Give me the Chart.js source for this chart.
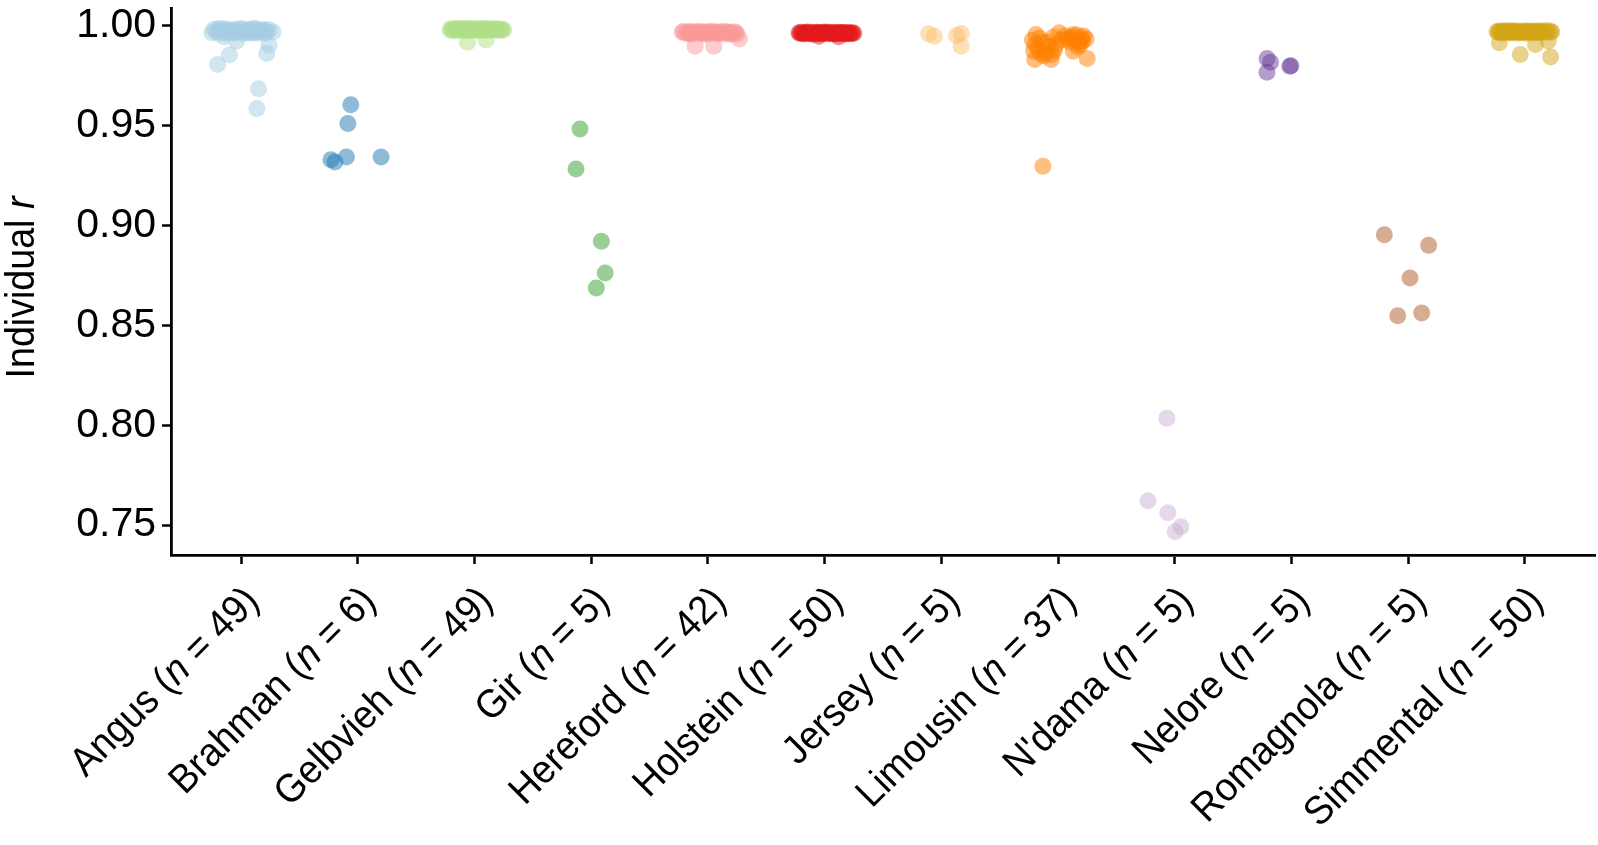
<!DOCTYPE html>
<html>
<head>
<meta charset="utf-8">
<title>Individual r per breed</title>
<script src="https://cdn.jsdelivr.net/npm/chart.js@4.4.1/dist/chart.umd.min.js"></script>
<style>
  html, body { margin: 0; padding: 0; background: #fff; }
  #wrap { width: 1598px; height: 845px; }
</style>
</head>
<body>
<div id="wrap"><canvas id="stripChart" width="1598" height="845"></canvas></div>
<script>
// --- Daten: Kategorien, Stichprobengrössen, Tick-Werte ---
const breeds = ["Angus", "Brahman", "Gelbvieh", "Gir", "Hereford", "Holstein",
                "Jersey", "Limousin", "N'dama", "Nelore", "Romagnola", "Simmental"];
const breedN = [49, 6, 49, 5, 42, 50, 5, 37, 5, 5, 5, 50];
const yTicks = [0.75, 0.80, 0.85, 0.90, 0.95, 1.00];

// Werte pro Rasse (r) und horizontaler Jitter (in Kategorie-Einheiten)
const angusR = [0.9983,0.9976,0.9987,0.9972,0.9981,0.9969,0.9985,0.9974,0.9980,0.9967,
                0.9984,0.9978,0.9971,0.9988,0.9982,0.9968,0.9975,0.9984,0.9972,0.9980,
                0.9966,0.9986,0.9974,0.9979,0.9970,0.9983,0.9973,0.9978,0.9968,0.9981,
                0.9963,0.9962,0.9965,0.9961,0.9964,0.9963,0.9962,0.9986,0.9988,
                0.9946,0.9924,0.9854,0.9807,0.9904,0.9862,0.9685,0.9586,0.9970,0.9966];
const angusJitter = [-0.23,-0.21,-0.19,-0.17,-0.15,-0.14,-0.12,-0.10,-0.09,-0.07,
                     -0.05,-0.04,-0.02,0.00,0.01,0.03,0.04,0.06,0.07,0.09,
                     0.10,0.12,0.13,0.15,0.16,0.18,0.19,0.21,0.22,0.24,
                     -0.20,-0.13,-0.06,0.02,0.08,0.14,0.20,-0.16,0.11,
                     -0.147,-0.04,-0.10,-0.20,0.24,0.22,0.15,0.135,0.275,-0.25];

const brahmanR = [0.9605, 0.9511, 0.9344, 0.9344, 0.9330, 0.9319];
const brahmanJitter = [-0.06, -0.085, -0.097, 0.20, -0.23, -0.195];

const gelbviehR = [0.9984,0.9979,0.9987,0.9981,0.9976,0.9985,0.9980,0.9988,0.9978,0.9983,
                   0.9986,0.9977,0.9982,0.9989,0.9979,0.9984,0.9981,0.9975,0.9987,0.9980,
                   0.9983,0.9978,0.9986,0.9982,0.9976,0.9985,0.9980,0.9988,0.9979,0.9983,
                   0.9977,0.9986,0.9981,0.9984,0.9978,0.9987,0.9982,0.9980,0.9985,0.9979,
                   0.9983,0.9986,0.9981,0.9977,0.9984,0.9982,0.9980,
                   0.9918,0.9930];
const gelbviehJitter = [-0.21,-0.20,-0.19,-0.18,-0.17,-0.16,-0.15,-0.14,-0.13,-0.12,
                        -0.11,-0.10,-0.09,-0.08,-0.07,-0.06,-0.05,-0.04,-0.03,-0.02,
                        -0.01,0.00,0.01,0.02,0.03,0.04,0.05,0.06,0.07,0.08,
                        0.09,0.10,0.11,0.12,0.13,0.14,0.15,0.16,0.17,0.18,
                        0.19,0.20,0.21,0.22,0.23,0.24,0.25,
                        -0.06,0.10];

const girR = [0.9484, 0.9284, 0.8922, 0.8763, 0.8687];
const girJitter = [-0.096, -0.13, 0.087, 0.12, 0.044];

const herefordR = [0.9968,0.9972,0.9963,0.9970,0.9966,0.9974,0.9961,0.9969,0.9965,0.9971,
                   0.9964,0.9973,0.9967,0.9960,0.9970,0.9966,0.9972,0.9962,0.9968,0.9974,
                   0.9965,0.9969,0.9963,0.9971,0.9967,0.9960,0.9973,0.9966,0.9970,0.9964,
                   0.9968,0.9962,0.9971,0.9965,0.9960,0.9959,0.9958,0.9961,0.9957,
                   0.9899,0.9899,0.9935];
const herefordJitter = [-0.22,-0.21,-0.19,-0.18,-0.17,-0.15,-0.14,-0.12,-0.11,-0.10,
                        -0.08,-0.07,-0.05,-0.04,-0.03,-0.01,0.00,0.02,0.03,0.04,
                        0.06,0.07,0.09,0.10,0.11,0.13,0.14,0.16,0.17,0.18,
                        0.20,0.21,0.23,0.24,0.25,-0.16,-0.02,0.08,0.19,
                        -0.11,0.05,0.27];

const holsteinR = [0.9966,0.9962,0.9969,0.9964,0.9960,0.9967,0.9963,0.9970,0.9965,0.9961,
                   0.9968,0.9964,0.9959,0.9966,0.9962,0.9969,0.9963,0.9967,0.9960,0.9965,
                   0.9968,0.9962,0.9966,0.9970,0.9963,0.9967,0.9961,0.9965,0.9969,0.9964,
                   0.9960,0.9966,0.9962,0.9968,0.9965,0.9961,0.9967,0.9963,0.9969,0.9964,
                   0.9960,0.9966,0.9962,0.9967,0.9964,0.9961,0.9966,0.9963,0.9948,0.9946];
const holsteinJitter = [-0.22,-0.21,-0.20,-0.19,-0.18,-0.17,-0.16,-0.15,-0.14,-0.13,
                        -0.12,-0.11,-0.10,-0.09,-0.08,-0.07,-0.06,-0.05,-0.04,-0.03,
                        -0.02,-0.01,0.00,0.01,0.02,0.03,0.04,0.05,0.06,0.07,
                        0.08,0.09,0.10,0.11,0.12,0.13,0.14,0.15,0.16,0.17,
                        0.18,0.19,0.20,0.21,0.22,0.23,0.24,0.25,-0.05,0.12];

const jerseyR = [0.9961, 0.9949, 0.9952, 0.9962, 0.9899];
const jerseyJitter = [-0.11, -0.06, 0.13, 0.17, 0.17];

const limousinR = [0.9907,0.9957,0.9832,0.9832,0.9966,0.9957,0.9941,0.9874,0.9837,0.9899,
                   0.9917,0.9930,0.9885,0.9860,0.9875,0.9918,0.9940,0.9850,0.9920,0.9945,
                   0.9880,0.9865,0.9905,0.9930,0.9950,0.9935,0.9920,0.9945,0.9930,0.9895,
                   0.9905,0.9925,0.9950,0.9935,0.9955,0.9858,0.9297];
const limousinJitter = [-0.20,-0.19,-0.20,-0.06,0.01,0.13,0.20,0.13,0.25,-0.075,
                        0.18,-0.22,-0.17,-0.15,-0.21,-0.13,-0.16,-0.12,-0.09,-0.04,
                        -0.03,-0.10,-0.02,0.03,0.06,0.08,0.10,0.12,0.15,0.17,
                        0.19,0.21,0.22,0.24,0.16,-0.05,-0.13];

const ndamaR = [0.8035, 0.7622, 0.7562, 0.7492, 0.7467];
const ndamaJitter = [-0.068, -0.23, -0.06, 0.052, 0.003];

const neloreR = [0.9837, 0.9818, 0.9768, 0.9798, 0.9801];
const neloreJitter = [-0.21, -0.18, -0.21, -0.015, -0.005];

const romagnolaR = [0.8954, 0.8901, 0.8737, 0.8548, 0.8562];
const romagnolaJitter = [-0.205, 0.175, 0.015, -0.09, 0.115];

const simmentalR = [0.9972,0.9967,0.9975,0.9970,0.9964,0.9973,0.9968,0.9976,0.9971,0.9965,
                    0.9974,0.9969,0.9977,0.9966,0.9972,0.9970,0.9975,0.9963,0.9971,0.9968,
                    0.9974,0.9966,0.9972,0.9969,0.9976,0.9964,0.9970,0.9973,0.9967,0.9975,
                    0.9969,0.9972,0.9965,0.9974,0.9970,0.9967,0.9976,0.9971,0.9966,0.9973,
                    0.9969,0.9977,0.9968,0.9972,0.9970,
                    0.9916,0.9857,0.9844,0.9907,0.9925];
const simmentalJitter = [-0.24,-0.23,-0.22,-0.21,-0.20,-0.19,-0.18,-0.17,-0.16,-0.15,
                         -0.14,-0.13,-0.12,-0.11,-0.10,-0.09,-0.08,-0.07,-0.06,-0.05,
                         -0.04,-0.03,-0.02,-0.01,0.00,0.01,0.02,0.03,0.04,0.05,
                         0.06,0.07,0.08,0.09,0.10,0.11,0.12,0.13,0.14,0.15,
                         0.17,0.19,0.20,0.22,0.23,
                         -0.22,-0.04,0.22,0.09,0.20];

// Farben (Paired-Palette), werden mit Alpha 0.5 gezeichnet
const breedColors = ["166,206,227", "31,120,180", "178,223,138", "51,160,44",
                     "251,154,153", "227,26,28", "253,191,111", "255,127,0",
                     "202,178,214", "106,61,154", "177,89,40", "212,165,23"];

const seriesR = [angusR, brahmanR, gelbviehR, girR, herefordR, holsteinR,
                 jerseyR, limousinR, ndamaR, neloreR, romagnolaR, simmentalR];
const seriesJitter = [angusJitter, brahmanJitter, gelbviehJitter, girJitter, herefordJitter, holsteinJitter,
                      jerseyJitter, limousinJitter, ndamaJitter, neloreJitter, romagnolaJitter, simmentalJitter];

const FONT = "'Liberation Sans', Arial, Helvetica, sans-serif";
const LABEL_SIZE = 40;
const SQUEEZE = 0.94; // Schrift im Original etwas schmaler laufend

// Breite der Textstücke messen (n / r kursiv)
function measureParts(ctx, parts) {
  let total = 0;
  parts.forEach(p => {
    ctx.font = (p.italic ? "italic " : "") + LABEL_SIZE + "px " + FONT;
    p.w = ctx.measureText(p.text).width;
    total += p.w;
  });
  return total;
}

function fillParts(ctx, parts, startX) {
  let x = startX;
  parts.forEach(p => {
    ctx.font = (p.italic ? "italic " : "") + LABEL_SIZE + "px " + FONT;
    ctx.fillText(p.text, x, 0);
    x += p.w;
  });
}

const labelPlugin = {
  id: "labelPlugin",
  afterDraw(chart) {
    const ctx = chart.ctx;
    const area = chart.chartArea;
    const xScale = chart.scales.x;

    ctx.save();
    ctx.fillStyle = "#000";
    ctx.textAlign = "left";
    ctx.textBaseline = "top";
    breeds.forEach((name, i) => {
      const parts = [
        { text: name + " (", italic: false },
        { text: "n", italic: true },
        { text: " = " + breedN[i] + ")", italic: false }
      ];
      const total = measureParts(ctx, parts);
      ctx.save();
      ctx.translate(xScale.getPixelForValue(i) - 2, area.bottom + 26);
      ctx.rotate(-Math.PI / 4);
      ctx.scale(SQUEEZE, 1);
      fillParts(ctx, parts, -total);
      ctx.restore();
    });

    // y-Achsentitel "Individual r"
    const tParts = [{ text: "Individual ", italic: false }, { text: "r", italic: true }];
    const tw = measureParts(ctx, tParts);
    ctx.translate(23, (area.top + area.bottom) / 2 + 6);
    ctx.rotate(-Math.PI / 2);
    ctx.scale(SQUEEZE, 1);
    ctx.textBaseline = "middle";
    fillParts(ctx, tParts, -tw / 2);
    ctx.restore();
  }
};

function renderChart() {
  const ctx = document.getElementById("stripChart");

  const datasets = breeds.map((name, i) => ({
    label: name,
    data: seriesR[i].map((v, k) => ({ x: i + seriesJitter[i][k], y: v })),
    backgroundColor: "rgba(" + breedColors[i] + ",0.5)",
    borderWidth: 0,
    pointRadius: 8.5,
    pointHoverRadius: 8.5
  }));

  const axisGrid = { drawOnChartArea: false, drawTicks: true, tickLength: 9, tickWidth: 2.5, tickColor: "#000" };
  const axisBorder = { display: true, color: "#000", width: 2.8 };

  new Chart(ctx, {
    type: "scatter",
    data: { datasets: datasets },
    options: {
      responsive: false,
      animation: false,
      layout: { autoPadding: false, padding: { top: 8, right: 3, left: 0, bottom: 0 } },
      scales: {
        x: {
          type: "linear",
          min: -0.6,
          max: 11.6,
          afterBuildTicks: s => { s.ticks = breeds.map((b, i) => ({ value: i })); },
          afterFit: s => { s.height = 290; s.paddingLeft = 0; s.paddingRight = 0; },
          ticks: { display: false },
          grid: axisGrid,
          border: axisBorder
        },
        y: {
          min: 0.735,
          max: 1.009,
          afterBuildTicks: s => { s.ticks = yTicks.map(v => ({ value: v })); },
          afterFit: s => { s.width = 171; s.paddingTop = 0; s.paddingBottom = 0; },
          ticks: {
            color: "#000",
            padding: 6,
            font: { size: 41, family: FONT },
            callback: v => Number(v).toFixed(2)
          },
          grid: axisGrid,
          border: axisBorder
        }
      },
      plugins: { legend: { display: false }, tooltip: { enabled: false } }
    },
    plugins: [labelPlugin]
  });
}

window.addEventListener("load", renderChart);
</script>
</body>
</html>
